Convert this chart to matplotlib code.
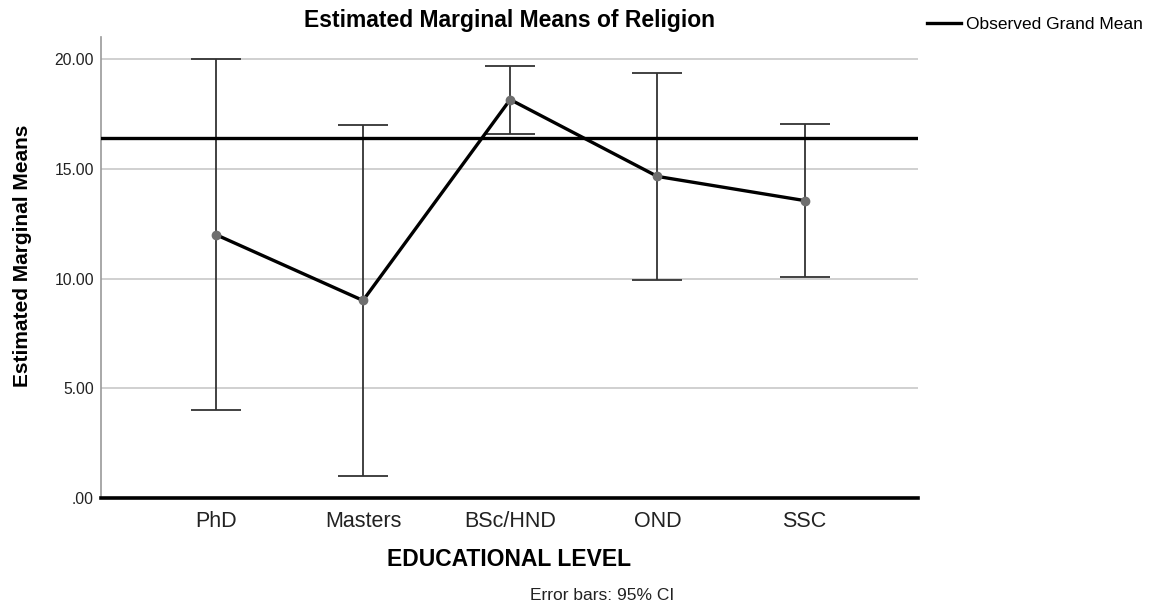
import numpy as np
import matplotlib.pyplot as plt

plt.rcParams['font.family'] = ['Liberation Sans', 'DejaVu Sans']

levels = ['PhD', 'Masters', 'BSc/HND', 'OND', 'SSC']
means = [12.0, 9.0, 18.15, 14.65, 13.55]
ci_low = [4.0, 1.0, 16.6, 9.93, 10.05]
ci_high = [20.0, 16.97, 19.7, 19.38, 17.04]
grand_mean = 16.38
yticks = [0, 5, 10, 15, 20]
ytick_labels = ['.00', '5.00', '10.00', '15.00', '20.00']

fig = plt.figure(figsize=(11.56, 6.06), dpi=100)
ax = fig.add_axes([0.0874, 0.178, 0.7066, 0.761])

x = np.arange(len(levels))
m = np.array(means)
err = [m - np.array(ci_low), np.array(ci_high) - m]

for yv in yticks[1:]:
    ax.axhline(yv, color='#c8c8c8', lw=1.2, zorder=0)

ax.errorbar(x, m, yerr=err, fmt='none', ecolor='#333333', elinewidth=1.3,
            capsize=18, capthick=1.3, zorder=2)
gm, = ax.plot([-1, 6], [grand_mean, grand_mean], color='black', lw=2.4, zorder=3)
ax.plot(x, m, color='black', lw=2.4, zorder=4)
ax.plot(x, m, 'o', color='#6e6e6e', ms=6, zorder=5)

ax.set_xlim(-0.78, 4.77)
ax.set_ylim(0, 21)
ax.set_xticks(x)
ax.set_xticklabels(levels, fontsize=15.5, color='#222222')
ax.set_yticks(yticks)
ax.set_yticklabels(ytick_labels, fontsize=11.3, color='#222222')
ax.tick_params(axis='both', length=0)
ax.tick_params(axis='x', pad=9)
ax.tick_params(axis='y', pad=5)

for s in ['top', 'right']:
    ax.spines[s].set_visible(False)
ax.spines['left'].set_color('#999999')
ax.spines['left'].set_linewidth(1.2)
ax.spines['bottom'].set_color('black')
ax.spines['bottom'].set_linewidth(2.6)

ax.set_title('Estimated Marginal Means of Religion', fontsize=16.5, fontweight='bold', pad=7)
ax.set_ylabel('Estimated Marginal Means', fontsize=15, fontweight='bold', labelpad=14)
ax.yaxis.set_label_coords(-0.085, 0.525)
ax.set_xlabel('EDUCATIONAL LEVEL', fontsize=16.5, fontweight='bold', labelpad=12)

fig.legend([gm], ['Observed Grand Mean'], loc='upper left', bbox_to_anchor=(0.788, 0.998),
           frameon=False, fontsize=12.5, handlelength=2.0, handletextpad=0.3)

fig.text(0.521, 0.01, 'Error bars: 95% CI', fontsize=12.5, ha='center', color='#222222')

plt.savefig('out.png', dpi=100)
